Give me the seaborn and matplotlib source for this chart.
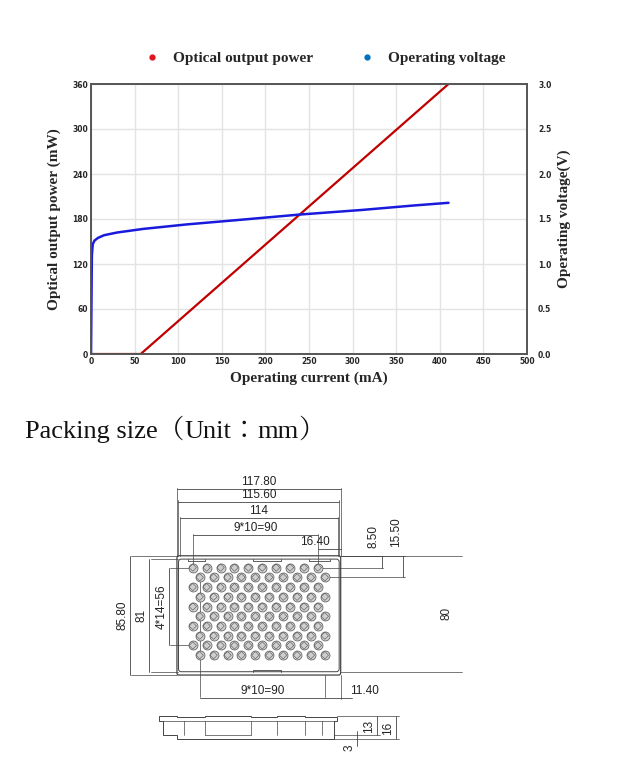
import matplotlib
matplotlib.use("Agg")
import matplotlib.pyplot as plt
from matplotlib import font_manager
from matplotlib.lines import Line2D
from matplotlib.patches import FancyBboxPatch, Polygon
import seaborn as sns

# --- Chart data ---
power_current = [0, 57, 410]
power_mw = [0, 0, 360]
volt_current = [0, 1, 2, 4, 8, 15, 30, 60, 110, 170, 240, 310, 370, 410]
volt_v = [0.0, 1.1, 1.22, 1.26, 1.29, 1.32, 1.35, 1.39, 1.44, 1.49, 1.55, 1.6, 1.65, 1.68]
x_ticks = [0, 50, 100, 150, 200, 250, 300, 350, 400, 450, 500]
y_ticks = [0, 60, 120, 180, 240, 300, 360]
y2_ticks = [0.0, 0.5, 1.0, 1.5, 2.0, 2.5, 3.0]

# --- Tray dimensions (mm) ---
tray_w, tray_h = 117.8, 85.8
inner_w, inner_h = 115.6, 81
pocket_w = 114
pitch_x, n_cols = 10, 10
pitch_y, n_rows = 14, 5
row_a_right, row_b_right = 16.4, 11.4
row_a_top, row_b_top = 8.5, 15.5
height_total, height_body, height_foot = 16, 13, 3

sns.set_theme(style="whitegrid")
fig = plt.figure(figsize=(6.23, 7.75), dpi=100)
serif = "Liberation Serif"
title_size = 19

# find an installed regular-weight CJK font file for the full-width punctuation
cjk_fonts = [f for f in font_manager.fontManager.ttflist if "CJK" in f.name]
cjk_fonts.sort(key=lambda f: abs((f.weight if isinstance(f.weight, int) else 400) - 400))
if cjk_fonts:
    cjk_prop = font_manager.FontProperties(fname=cjk_fonts[0].fname)
else:
    cjk_prop = font_manager.FontProperties(family="DejaVu Sans")
cjk_prop.set_size(title_size)

# --- I-P / I-V chart ---
ax = fig.add_axes([91 / 623, 1 - 354 / 775, 436 / 623, 270 / 775])
sns.lineplot(x=power_current, y=power_mw, ax=ax, color="#c00000", lw=1.6)
ax.set_xlim(0, 500)
ax.set_ylim(0, 360)
ax.set_xticks(x_ticks)
ax.set_yticks(y_ticks)
ax.grid(color="#e3e3e3", lw=1)
ax.tick_params(labelsize=5.5, pad=2, length=0)
for lab in ax.get_xticklabels() + ax.get_yticklabels():
    lab.set_fontweight("bold")
ax.set_xlabel("Operating current (mA)", fontfamily=serif, fontweight="bold", fontsize=11, labelpad=4)
ax.set_ylabel("Optical output power (mW)", fontfamily=serif, fontweight="bold", fontsize=11, labelpad=8)

ax2 = ax.twinx()
sns.lineplot(x=volt_current, y=volt_v, ax=ax2, color="#1a1adc", lw=1.8)
ax2.set_ylim(0, 3.0)
ax2.set_yticks(y2_ticks)
ax2.set_yticklabels([f"{v:.1f}" for v in y2_ticks], fontweight="bold")
ax2.grid(False)
ax2.tick_params(labelsize=5.5, pad=8, length=0)
ax2.set_ylabel("Operating voltage(V)", fontfamily=serif, fontweight="bold", fontsize=11, labelpad=4)
for a in (ax, ax2):
    for s in a.spines.values():
        s.set_color("#555555")
        s.set_linewidth(1.2)

handles = [Line2D([], [], ls="", marker="o", ms=3.5, color="#e0141e"),
           Line2D([], [], ls="", marker="o", ms=3.5, color="#0070c0")]
fig.legend(handles, ["Optical output power", "Operating voltage"], loc="center",
           bbox_to_anchor=(0.515, 1 - 58 / 775), ncol=2, frameon=False, handletextpad=0.4,
           columnspacing=2.5, prop={"family": serif, "weight": "bold", "size": 11})

# title pieces: Latin in serif, full-width punctuation in CJK font
pieces = [("Packing size", False), ("（", True), ("Unit", False), ("：", True), ("mm", False), ("）", True)]
renderer = fig.canvas.get_renderer()
x_px = 25
for txt, is_cjk in pieces:
    if is_cjk:
        t = fig.text(x_px / 623, 1 - 438 / 775, txt, fontproperties=cjk_prop, va="baseline",
                     ha="left", color="#111111")
    else:
        t = fig.text(x_px / 623, 1 - 438 / 775, txt, fontfamily=serif, fontsize=title_size, va="baseline",
                     ha="left", color="#111111")
    x_px = t.get_window_extent(renderer).x1

# --- Packing drawing in mm ---
d = fig.add_axes([0, 0, 1, 315 / 775])
d.set_xlim(-127.3, 320.9)
d.set_ylim(-71.9, 154.7)
d.axis("off")
lc = "#444444"
fs = 8.5
sans = "Liberation Sans"

d.add_patch(FancyBboxPatch((0, 0), tray_w, tray_h, boxstyle="round,pad=0,rounding_size=1.5",
                           fc="none", ec=lc, lw=0.9))
ix, iy = (tray_w - inner_w) / 2, (tray_h - inner_h) / 2
d.add_patch(FancyBboxPatch((ix, iy), inner_w, inner_h, boxstyle="round,pad=0,rounding_size=2",
                           fc="none", ec=lc, lw=0.7))
# notches
for x0, x1 in [(8, 20), (55, 75), (95, 110)]:
    d.plot([x0, x0, x1, x1], [iy + inner_h, iy + inner_h - 1.5, iy + inner_h - 1.5, iy + inner_h], color=lc, lw=0.6)
for x0, x1 in [(55, 75)]:
    d.plot([x0, x0, x1, x1], [iy, iy + 1.5, iy + 1.5, iy], color=lc, lw=0.6)

# pockets
a_x0 = tray_w - row_a_right - pitch_x * (n_cols - 1)
b_x0 = tray_w - row_b_right - pitch_x * (n_cols - 1)
hx, hy = [], []
for r in range(n_rows):
    for c in range(n_cols):
        hx += [a_x0 + c * pitch_x, b_x0 + c * pitch_x]
        hy += [tray_h - row_a_top - r * pitch_y, tray_h - row_b_top - r * pitch_y]
d.scatter(hx, hy, s=42, marker="o", fc="#cfcfcf", ec="#555555", lw=0.5, zorder=3)
d.scatter(hx, hy, s=14, marker="D", fc="none", ec="#555555", lw=0.4, zorder=4)


def hdim(x0, x1, y, label, tx=None, ext=None):
    d.plot([x0, x1], [y, y], color=lc, lw=0.6)
    if ext is not None:
        for xx, ye in zip((x0, x1), ext):
            d.plot([xx, xx], [ye, y + 1], color=lc, lw=0.5)
    d.text((x0 + x1) / 2 if tx is None else tx, y + 0.8, label, ha="center", va="bottom",
           fontsize=fs, fontfamily=sans, color="#222222")


def vdim(x, y0, y1, label, tx_off=-1.2, ty=None, ext=None):
    d.plot([x, x], [y0, y1], color=lc, lw=0.6)
    if ext is not None:
        for yy, xe in zip((y0, y1), ext):
            d.plot([xe, x + 1], [yy, yy], color=lc, lw=0.5)
    d.text(x + tx_off, (y0 + y1) / 2 if ty is None else ty, label, rotation=90, ha="right" if tx_off < 0 else "left",
           va="center", fontsize=fs, fontfamily=sans, color="#222222")


hdim(0, tray_w, 133.8, "117.80", ext=(tray_h, tray_h))
hdim(ix, ix + inner_w, 124.7, "115.60", ext=(tray_h, tray_h))
pk = (tray_w - pocket_w) / 2
hdim(pk, pk + pocket_w, 113, "114", ext=(tray_h, tray_h))
hdim(a_x0, a_x0 + 9 * pitch_x, 100.7, "9*10=90", ext=(hy[0], hy[0]))
hdim(tray_w - row_a_right, tray_w, 90.6, "16.40", tx=tray_w - row_a_right - 2)
hdim(b_x0, b_x0 + 9 * pitch_x, -16.5, "9*10=90", ext=(hy[1], 0))
hdim(tray_w - row_b_right, tray_w + 8, -16.5, "11.40", tx=tray_w + 17)
d.plot([tray_w, tray_w], [0, -17.5], color=lc, lw=0.5)

vdim(147.2, tray_h - row_a_top, tray_h, "8.50", ty=100, ext=(hx[-2], tray_w))
vdim(162.9, tray_h - row_b_top, tray_h, "15.50", ty=103, ext=(hx[-1], tray_w))
d.plot([tray_w, 205], [tray_h, tray_h], color=lc, lw=0.5)
d.plot([tray_w, 205], [iy, iy], color=lc, lw=0.5)
d.text(194, (tray_h + iy) / 2, "80", rotation=90, ha="center", va="center", fontsize=fs, fontfamily=sans)

vdim(-33.8, 0, tray_h, "85.80", ext=(0, 0))
vdim(-20, iy, iy + inner_h, "81", ext=(ix, ix))
vdim(-5.7, hy[-2], hy[0], "4*14=56", ext=(hx[-2 - 18], hx[0]))

# --- Side view ---
top = -30.2
body = top - height_body
foot = top - height_total
side = [(-13, top), (-13, top - 2.5), (-10, top - 2.5), (-10, foot + 3), (0, foot + 3), (0, foot),
        (113, foot), (113, top - 2.5),
        (115, top - 2.5), (115, top), (92, top), (92, top + 0.8), (72, top + 0.8), (72, top),
        (53, top), (53, top + 0.8), (20, top + 0.8), (20, top), (0, top), (0, top + 0.8),
        (-13, top + 0.8)]
d.add_patch(Polygon(side, closed=True, fc="none", ec=lc, lw=0.7))
for xv in [5, 20, 53, 72, 92, 104]:
    d.plot([xv, xv], [top - 2.5, foot + 3], color=lc, lw=0.5)
d.plot([-10, 113], [top - 2.5, top - 2.5], color=lc, lw=0.5)
d.plot([20, 53], [foot + 3, foot + 3], color=lc, lw=0.5)

for x, y0, y1 in [(157.5, foot, top + 0.8), (143.9, body, top + 0.8)]:
    d.plot([x, x], [y0, y1], color=lc, lw=0.6)
d.plot([115, 160], [top + 0.8, top + 0.8], color=lc, lw=0.5)
d.plot([113, 160], [foot, foot], color=lc, lw=0.5)
d.plot([113, 146], [body, body], color=lc, lw=0.5)
d.plot([129.5, 129.5], [body + 3, foot - 5], color=lc, lw=0.6)
d.text(142.7, (top + body) / 2, "13", rotation=90, ha="right", va="center", fontsize=fs, fontfamily=sans)
d.text(156.3, (top + foot) / 2, "16", rotation=90, ha="right", va="center", fontsize=fs, fontfamily=sans)
d.text(128.5, foot - 6, "3", rotation=90, ha="right", va="center", fontsize=fs, fontfamily=sans)

fig.savefig("out.png", dpi=100, facecolor="white")
